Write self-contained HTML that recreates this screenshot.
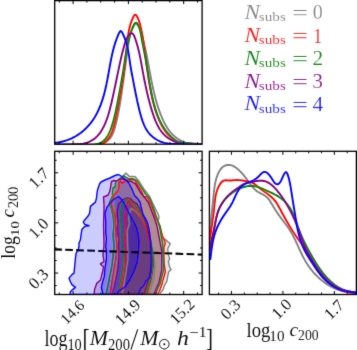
<!DOCTYPE html>
<html><head><meta charset="utf-8"><style>
html,body{margin:0;padding:0;background:#fff;}
body{width:357px;height:350px;overflow:hidden;}
svg{display:block;}
text{font-family:"Liberation Serif",serif;}
</style></head><body>
<svg width="357" height="350" viewBox="0 0 357 350">
<defs>
<filter id="bl" x="0" y="0" width="357" height="350" filterUnits="userSpaceOnUse"><feConvolveMatrix order="3" kernelMatrix="0.01134 0.08382 0.01134 0.08382 0.61935 0.08382 0.01134 0.08382 0.01134" edgeMode="duplicate"/></filter>
<clipPath id="cA"><rect x="54.7" y="0.6" width="147.4" height="143.6"/></clipPath>
<clipPath id="cB"><rect x="54.7" y="151.3" width="147.4" height="143.2"/></clipPath>
<clipPath id="cC"><rect x="209.4" y="151.3" width="147.0" height="143.2"/></clipPath>
</defs>
<g filter="url(#bl)">

<g clip-path="url(#cB)" stroke-linejoin="round">
<path d="M160.0,294.5 L160.8,292.5 L163.4,289.1 L164.3,285.7 L166.8,281.4 L168.6,272.0 L171.1,269.4 L169.7,267.4 L168.3,261.7 L169.7,258.9 L168.3,254.6 L167.7,248.8 L170.3,243.7 L165.4,239.6 L162.6,237.4 L161.1,230.0 L159.7,225.7 L157.6,220.7 L159.0,218.6 L158.6,215.0 L156.3,210.5 L152.9,203.6 L149.5,196.2 L143.7,188.7 L138.6,180.7 L135.2,176.7 L132.9,176.4 L129.4,176.4 L127.7,174.7 L126.0,173.0 L124.0,175.0 L123.0,177.0 L121.0,179.0 L119.0,183.0 L117.0,186.0 L115.0,192.0 L114.0,198.0 L114.0,205.0 L115.0,215.0 L117.0,230.0 L118.0,245.0 L117.0,260.0 L115.0,275.0 L113.0,294.5 Z" fill="#808080" fill-opacity="0.200" stroke="none"/>
<path d="M122.0,294.5 L124.0,284.0 L126.0,272.0 L127.9,260.0 L127.9,250.0 L127.1,231.4 L129.3,224.3 L128.6,217.1 L130.7,208.6 L136.0,211.0 L140.6,216.7 L144.0,222.0 L147.0,230.0 L151.0,242.0 L154.0,255.0 L155.0,266.0 L154.0,278.0 L151.0,288.0 L149.0,294.5 Z" fill="#808080" fill-opacity="0.250" stroke="none"/>
<path d="M158.0,294.5 L161.0,287.0 L165.4,271.7 L164.0,263.1 L164.0,247.4 L165.4,243.1 L161.9,234.6 L159.7,225.7 L156.5,219.0 L154.6,215.0 L153.5,210.5 L151.2,204.8 L148.9,200.2 L147.2,196.8 L143.7,196.8 L141.5,191.0 L138.0,185.3 L134.6,179.6 L128.3,179.3 L125.0,181.0 L123.0,183.0 L121.5,183.0 L120.5,181.0 L118.5,183.0 L119.0,185.0 L118.5,190.0 L116.5,192.5 L114.0,195.0 L112.5,199.0 L111.0,204.0 L113.0,210.0 L115.0,215.0 L116.0,235.0 L117.0,247.0 L116.0,258.0 L114.0,270.0 L112.0,282.0 L110.0,294.5 Z" fill="#ff0000" fill-opacity="0.200" stroke="none"/>
<path d="M120.0,294.5 L121.0,289.0 L122.5,282.0 L123.5,274.0 L125.0,262.0 L125.7,250.0 L125.0,237.1 L125.7,228.6 L125.0,217.1 L126.4,208.6 L127.9,201.4 L129.1,200.7 L132.0,201.9 L133.7,208.7 L137.1,211.0 L140.0,214.4 L142.9,221.3 L145.1,225.9 L147.4,232.7 L151.0,245.0 L153.0,258.0 L153.0,268.0 L151.0,280.0 L148.0,290.0 L147.0,294.5 Z" fill="#ff0000" fill-opacity="0.250" stroke="none"/>
<path d="M155.7,294.5 L157.4,289.1 L160.0,284.0 L162.6,273.7 L164.0,268.9 L163.3,254.6 L162.6,243.1 L161.1,234.6 L159.7,225.7 L157.6,220.0 L155.8,215.0 L154.0,209.4 L151.8,203.6 L149.5,197.9 L146.0,194.5 L141.5,187.6 L136.9,180.7 L132.3,178.4 L128.3,178.7 L124.3,176.4 L123.5,175.5 L121.5,177.0 L118.5,180.0 L116.0,181.5 L115.5,183.0 L115.0,187.0 L113.0,188.0 L112.5,192.0 L112.5,196.0 L110.5,200.0 L109.0,204.0 L111.0,207.0 L113.0,215.0 L114.0,225.0 L113.0,235.0 L114.0,247.0 L113.0,255.0 L112.0,265.0 L110.0,275.0 L108.0,285.0 L106.0,294.5 Z" fill="#008000" fill-opacity="0.200" stroke="none"/>
<path d="M118.0,294.5 L118.6,289.3 L120.7,282.1 L122.1,273.6 L123.6,262.1 L122.5,252.0 L121.4,243.0 L122.1,236.0 L121.4,226.0 L120.7,217.0 L121.4,209.0 L122.9,202.9 L125.7,199.6 L129.7,199.6 L132.6,201.9 L136.0,206.4 L140.0,212.0 L143.5,219.0 L146.5,226.0 L150.0,238.0 L152.5,252.0 L153.0,266.0 L151.0,278.0 L148.0,288.0 L146.0,294.5 Z" fill="#008000" fill-opacity="0.250" stroke="none"/>
<path d="M94.0,294.5 L94.7,288.9 L96.9,283.1 L100.4,280.3 L103.0,270.0 L103.3,266.7 L100.4,263.9 L104.0,261.7 L103.0,255.0 L104.0,245.0 L103.5,225.0 L104.0,210.0 L104.0,205.0 L103.5,197.0 L106.0,196.0 L108.0,195.0 L109.5,192.0 L110.5,188.0 L111.0,184.0 L111.5,181.5 L114.0,180.5 L116.5,181.0 L119.0,179.5 L121.0,178.5 L124.0,179.5 L128.0,181.0 L131.1,181.3 L135.7,184.2 L140.3,192.2 L144.9,197.9 L148.3,202.5 L150.6,208.2 L152.3,212.8 L154.0,217.1 L156.9,225.7 L159.7,240.3 L161.9,251.7 L161.9,266.0 L161.7,270.2 L159.1,282.2 L155.7,290.0 L154.0,294.5 Z" fill="#800080" fill-opacity="0.200" stroke="none"/>
<path d="M112.0,294.5 L113.6,289.3 L114.3,286.4 L115.7,279.3 L117.1,273.6 L118.6,262.1 L118.6,250.0 L118.6,238.6 L117.1,228.6 L117.9,221.4 L117.1,211.4 L118.6,204.3 L122.9,199.6 L126.9,197.9 L130.3,198.4 L133.7,201.9 L137.1,204.1 L140.5,210.0 L144.0,218.0 L147.0,226.0 L150.0,240.0 L151.0,255.0 L151.0,266.0 L149.0,278.0 L146.0,288.0 L144.0,294.5 Z" fill="#800080" fill-opacity="0.250" stroke="none"/>
<path d="M70.0,294.5 L70.4,291.7 L72.6,289.6 L75.4,287.4 L71.9,284.6 L70.4,281.7 L69.0,278.1 L71.9,274.6 L74.0,273.1 L74.7,266.0 L75.4,258.9 L76.1,253.1 L78.3,249.6 L79.0,246.0 L79.0,242.9 L80.4,240.0 L81.1,234.3 L81.9,229.3 L84.7,226.4 L89.0,225.7 L84.7,224.3 L83.3,222.1 L84.0,220.7 L88.3,215.7 L89.7,212.9 L90.4,206.4 L95.4,202.1 L96.4,198.6 L97.0,193.0 L97.5,190.0 L99.5,184.0 L101.0,182.0 L105.0,180.0 L110.0,178.0 L115.0,175.5 L118.5,174.5 L121.0,176.0 L125.0,179.0 L128.9,183.3 L130.0,185.3 L132.3,189.9 L134.6,195.6 L138.0,199.1 L140.3,202.5 L140.9,205.9 L142.0,210.5 L143.2,215.0 L145.5,218.5 L147.4,222.4 L149.1,229.3 L150.6,240.0 L151.4,250.0 L151.6,260.0 L151.2,270.0 L149.5,278.5 L146.2,280.5 L143.5,286.0 L140.6,288.6 L138.5,294.5 Z" fill="#0000ff" fill-opacity="0.200" stroke="none"/>
<path d="M103.1,294.5 L102.1,290.7 L101.4,287.9 L102.1,283.6 L104.3,276.4 L105.0,267.9 L106.4,259.3 L106.4,250.0 L105.7,247.0 L106.4,238.6 L105.7,232.9 L105.7,221.4 L105.0,212.9 L107.1,207.1 L111.4,201.4 L115.0,198.5 L118.5,196.5 L121.5,199.5 L124.0,203.0 L127.4,210.0 L130.3,215.7 L133.7,221.5 L136.6,228.0 L138.3,235.0 L138.9,241.3 L138.4,252.0 L137.2,262.0 L134.3,270.7 L130.0,279.3 L125.7,286.4 L121.4,289.3 L118.6,291.4 L117.0,294.5 Z" fill="#0000ff" fill-opacity="0.250" stroke="none"/>
<path d="M160.0,294.5 L160.8,292.5 L163.4,289.1 L164.3,285.7 L166.8,281.4 L168.6,272.0 L171.1,269.4 L169.7,267.4 L168.3,261.7 L169.7,258.9 L168.3,254.6 L167.7,248.8 L170.3,243.7 L165.4,239.6 L162.6,237.4 L161.1,230.0 L159.7,225.7 L157.6,220.7 L159.0,218.6 L158.6,215.0 L156.3,210.5 L152.9,203.6 L149.5,196.2 L143.7,188.7 L138.6,180.7 L135.2,176.7 L132.9,176.4 L129.4,176.4 L127.7,174.7 L126.0,173.0 L124.0,175.0 L123.0,177.0 L121.0,179.0 L119.0,183.0 L117.0,186.0 L115.0,192.0 L114.0,198.0 L114.0,205.0 L115.0,215.0 L117.0,230.0 L118.0,245.0 L117.0,260.0 L115.0,275.0 L113.0,294.5 Z" fill="none" stroke="#808080" stroke-width="1.40"/>
<path d="M122.0,294.5 L124.0,284.0 L126.0,272.0 L127.9,260.0 L127.9,250.0 L127.1,231.4 L129.3,224.3 L128.6,217.1 L130.7,208.6 L136.0,211.0 L140.6,216.7 L144.0,222.0 L147.0,230.0 L151.0,242.0 L154.0,255.0 L155.0,266.0 L154.0,278.0 L151.0,288.0 L149.0,294.5 Z" fill="none" stroke="#808080" stroke-width="1.40"/>
<path d="M158.0,294.5 L161.0,287.0 L165.4,271.7 L164.0,263.1 L164.0,247.4 L165.4,243.1 L161.9,234.6 L159.7,225.7 L156.5,219.0 L154.6,215.0 L153.5,210.5 L151.2,204.8 L148.9,200.2 L147.2,196.8 L143.7,196.8 L141.5,191.0 L138.0,185.3 L134.6,179.6 L128.3,179.3 L125.0,181.0 L123.0,183.0 L121.5,183.0 L120.5,181.0 L118.5,183.0 L119.0,185.0 L118.5,190.0 L116.5,192.5 L114.0,195.0 L112.5,199.0 L111.0,204.0 L113.0,210.0 L115.0,215.0 L116.0,235.0 L117.0,247.0 L116.0,258.0 L114.0,270.0 L112.0,282.0 L110.0,294.5 Z" fill="none" stroke="#ff0000" stroke-width="1.40"/>
<path d="M120.0,294.5 L121.0,289.0 L122.5,282.0 L123.5,274.0 L125.0,262.0 L125.7,250.0 L125.0,237.1 L125.7,228.6 L125.0,217.1 L126.4,208.6 L127.9,201.4 L129.1,200.7 L132.0,201.9 L133.7,208.7 L137.1,211.0 L140.0,214.4 L142.9,221.3 L145.1,225.9 L147.4,232.7 L151.0,245.0 L153.0,258.0 L153.0,268.0 L151.0,280.0 L148.0,290.0 L147.0,294.5 Z" fill="none" stroke="#ff0000" stroke-width="1.40"/>
<path d="M155.7,294.5 L157.4,289.1 L160.0,284.0 L162.6,273.7 L164.0,268.9 L163.3,254.6 L162.6,243.1 L161.1,234.6 L159.7,225.7 L157.6,220.0 L155.8,215.0 L154.0,209.4 L151.8,203.6 L149.5,197.9 L146.0,194.5 L141.5,187.6 L136.9,180.7 L132.3,178.4 L128.3,178.7 L124.3,176.4 L123.5,175.5 L121.5,177.0 L118.5,180.0 L116.0,181.5 L115.5,183.0 L115.0,187.0 L113.0,188.0 L112.5,192.0 L112.5,196.0 L110.5,200.0 L109.0,204.0 L111.0,207.0 L113.0,215.0 L114.0,225.0 L113.0,235.0 L114.0,247.0 L113.0,255.0 L112.0,265.0 L110.0,275.0 L108.0,285.0 L106.0,294.5 Z" fill="none" stroke="#008000" stroke-width="1.40"/>
<path d="M118.0,294.5 L118.6,289.3 L120.7,282.1 L122.1,273.6 L123.6,262.1 L122.5,252.0 L121.4,243.0 L122.1,236.0 L121.4,226.0 L120.7,217.0 L121.4,209.0 L122.9,202.9 L125.7,199.6 L129.7,199.6 L132.6,201.9 L136.0,206.4 L140.0,212.0 L143.5,219.0 L146.5,226.0 L150.0,238.0 L152.5,252.0 L153.0,266.0 L151.0,278.0 L148.0,288.0 L146.0,294.5 Z" fill="none" stroke="#008000" stroke-width="1.40"/>
<path d="M94.0,294.5 L94.7,288.9 L96.9,283.1 L100.4,280.3 L103.0,270.0 L103.3,266.7 L100.4,263.9 L104.0,261.7 L103.0,255.0 L104.0,245.0 L103.5,225.0 L104.0,210.0 L104.0,205.0 L103.5,197.0 L106.0,196.0 L108.0,195.0 L109.5,192.0 L110.5,188.0 L111.0,184.0 L111.5,181.5 L114.0,180.5 L116.5,181.0 L119.0,179.5 L121.0,178.5 L124.0,179.5 L128.0,181.0 L131.1,181.3 L135.7,184.2 L140.3,192.2 L144.9,197.9 L148.3,202.5 L150.6,208.2 L152.3,212.8 L154.0,217.1 L156.9,225.7 L159.7,240.3 L161.9,251.7 L161.9,266.0 L161.7,270.2 L159.1,282.2 L155.7,290.0 L154.0,294.5 Z" fill="none" stroke="#800080" stroke-width="1.40"/>
<path d="M112.0,294.5 L113.6,289.3 L114.3,286.4 L115.7,279.3 L117.1,273.6 L118.6,262.1 L118.6,250.0 L118.6,238.6 L117.1,228.6 L117.9,221.4 L117.1,211.4 L118.6,204.3 L122.9,199.6 L126.9,197.9 L130.3,198.4 L133.7,201.9 L137.1,204.1 L140.5,210.0 L144.0,218.0 L147.0,226.0 L150.0,240.0 L151.0,255.0 L151.0,266.0 L149.0,278.0 L146.0,288.0 L144.0,294.5 Z" fill="none" stroke="#800080" stroke-width="1.40"/>
<path d="M70.0,294.5 L70.4,291.7 L72.6,289.6 L75.4,287.4 L71.9,284.6 L70.4,281.7 L69.0,278.1 L71.9,274.6 L74.0,273.1 L74.7,266.0 L75.4,258.9 L76.1,253.1 L78.3,249.6 L79.0,246.0 L79.0,242.9 L80.4,240.0 L81.1,234.3 L81.9,229.3 L84.7,226.4 L89.0,225.7 L84.7,224.3 L83.3,222.1 L84.0,220.7 L88.3,215.7 L89.7,212.9 L90.4,206.4 L95.4,202.1 L96.4,198.6 L97.0,193.0 L97.5,190.0 L99.5,184.0 L101.0,182.0 L105.0,180.0 L110.0,178.0 L115.0,175.5 L118.5,174.5 L121.0,176.0 L125.0,179.0 L128.9,183.3 L130.0,185.3 L132.3,189.9 L134.6,195.6 L138.0,199.1 L140.3,202.5 L140.9,205.9 L142.0,210.5 L143.2,215.0 L145.5,218.5 L147.4,222.4 L149.1,229.3 L150.6,240.0 L151.4,250.0 L151.6,260.0 L151.2,270.0 L149.5,278.5 L146.2,280.5 L143.5,286.0 L140.6,288.6 L138.5,294.5 Z" fill="none" stroke="#0000ff" stroke-width="1.40"/>
<path d="M103.1,294.5 L102.1,290.7 L101.4,287.9 L102.1,283.6 L104.3,276.4 L105.0,267.9 L106.4,259.3 L106.4,250.0 L105.7,247.0 L106.4,238.6 L105.7,232.9 L105.7,221.4 L105.0,212.9 L107.1,207.1 L111.4,201.4 L115.0,198.5 L118.5,196.5 L121.5,199.5 L124.0,203.0 L127.4,210.0 L130.3,215.7 L133.7,221.5 L136.6,228.0 L138.3,235.0 L138.9,241.3 L138.4,252.0 L137.2,262.0 L134.3,270.7 L130.0,279.3 L125.7,286.4 L121.4,289.3 L118.6,291.4 L117.0,294.5 Z" fill="none" stroke="#0000ff" stroke-width="1.40"/>
<line x1="54.7" y1="249.4" x2="202.1" y2="254.6" stroke="#000" stroke-width="2.1" stroke-dasharray="7.7,3.34" stroke-dashoffset="0.54"/>
</g>
<g clip-path="url(#cA)" fill="none" stroke-width="1.90">
<path d="M54.66,144.64 L55.70,144.70 L56.74,144.75 L57.77,144.79 L58.79,144.82 L59.80,144.84 L60.82,144.85 L61.82,144.85 L62.82,144.85 L63.82,144.84 L64.82,144.82 L65.81,144.80 L66.80,144.78 L67.78,144.75 L68.77,144.72 L69.75,144.69 L70.74,144.66 L71.72,144.63 L72.70,144.61 L73.69,144.58 L74.68,144.55 L75.66,144.53 L76.65,144.52 L77.65,144.50 L78.65,144.50 L79.65,144.50 L80.65,144.51 L81.66,144.52 L82.68,144.55 L83.70,144.59 L84.73,144.63 L85.76,144.69 L86.80,144.75 L87.83,144.81 L88.88,144.87 L89.92,144.93 L90.96,144.97 L91.99,145.01 L93.02,145.03 L94.05,145.04 L95.07,145.02 L96.08,144.98 L97.07,144.91 L98.06,144.80 L99.03,144.66 L99.99,144.49 L100.94,144.27 L101.86,144.00 L102.77,143.69 L103.65,143.32 L104.51,142.90 L105.35,142.43 L106.16,141.91 L106.95,141.34 L107.70,140.72 L108.42,140.06 L109.11,139.37 L109.76,138.63 L110.37,137.86 L110.94,137.06 L111.46,136.23 L111.95,135.37 L112.41,134.49 L112.83,133.58 L113.22,132.66 L113.59,131.72 L113.93,130.76 L114.25,129.79 L114.55,128.82 L114.84,127.84 L115.11,126.85 L115.37,125.86 L115.63,124.87 L115.88,123.89 L116.12,122.91 L116.36,121.92 L116.59,120.94 L116.81,119.96 L117.03,118.98 L117.25,118.01 L117.46,117.03 L117.67,116.05 L117.87,115.08 L118.07,114.10 L118.26,113.12 L118.45,112.14 L118.64,111.17 L118.82,110.19 L119.00,109.21 L119.18,108.23 L119.35,107.24 L119.52,106.26 L119.69,105.27 L119.86,104.29 L120.03,103.30 L120.19,102.31 L120.35,101.32 L120.51,100.33 L120.67,99.33 L120.82,98.34 L120.98,97.34 L121.13,96.35 L121.28,95.35 L121.43,94.36 L121.58,93.36 L121.73,92.36 L121.87,91.36 L122.02,90.37 L122.16,89.37 L122.30,88.37 L122.44,87.38 L122.58,86.38 L122.72,85.38 L122.86,84.39 L123.00,83.39 L123.13,82.40 L123.27,81.41 L123.40,80.42 L123.54,79.43 L123.67,78.44 L123.81,77.45 L123.94,76.46 L124.07,75.47 L124.21,74.48 L124.34,73.49 L124.47,72.50 L124.61,71.52 L124.74,70.53 L124.87,69.54 L125.00,68.55 L125.14,67.56 L125.27,66.57 L125.40,65.58 L125.54,64.58 L125.67,63.59 L125.81,62.60 L125.94,61.60 L126.08,60.60 L126.22,59.60 L126.36,58.60 L126.50,57.60 L126.63,56.60 L126.77,55.60 L126.91,54.60 L127.05,53.60 L127.20,52.59 L127.34,51.59 L127.48,50.59 L127.62,49.59 L127.76,48.59 L127.91,47.59 L128.05,46.59 L128.20,45.60 L128.34,44.60 L128.49,43.61 L128.64,42.62 L128.79,41.63 L128.95,40.65 L129.12,39.66 L129.30,38.68 L129.49,37.70 L129.69,36.73 L129.91,35.76 L130.15,34.79 L130.41,33.83 L130.69,32.86 L130.99,31.91 L131.32,30.95 L131.68,30.01 L132.06,29.06 L132.48,28.12 L132.92,27.19 L133.41,26.26 L133.92,25.34 L134.48,24.42 L135.07,23.58 L135.68,22.97 L136.30,22.72 L136.91,22.92 L137.51,23.49 L138.08,24.28 L138.60,25.16 L139.09,26.07 L139.53,26.99 L139.93,27.92 L140.30,28.87 L140.63,29.83 L140.95,30.80 L141.23,31.77 L141.50,32.75 L141.76,33.74 L142.00,34.73 L142.24,35.73 L142.48,36.72 L142.71,37.72 L142.95,38.71 L143.18,39.70 L143.41,40.69 L143.64,41.69 L143.88,42.68 L144.10,43.67 L144.33,44.66 L144.56,45.65 L144.78,46.63 L145.00,47.62 L145.22,48.61 L145.44,49.60 L145.65,50.58 L145.86,51.56 L146.07,52.55 L146.28,53.53 L146.48,54.51 L146.68,55.49 L146.87,56.47 L147.07,57.45 L147.26,58.43 L147.45,59.41 L147.64,60.39 L147.82,61.36 L148.01,62.34 L148.19,63.31 L148.37,64.29 L148.56,65.26 L148.74,66.24 L148.92,67.21 L149.10,68.19 L149.28,69.16 L149.45,70.14 L149.63,71.11 L149.82,72.08 L150.00,73.06 L150.18,74.03 L150.36,75.01 L150.54,75.98 L150.73,76.96 L150.92,77.93 L151.10,78.91 L151.29,79.88 L151.49,80.86 L151.68,81.83 L151.88,82.81 L152.08,83.79 L152.28,84.77 L152.49,85.75 L152.70,86.72 L152.91,87.70 L153.13,88.69 L153.34,89.67 L153.57,90.65 L153.80,91.63 L154.03,92.62 L154.27,93.61 L154.51,94.59 L154.75,95.58 L155.01,96.57 L155.26,97.56 L155.52,98.55 L155.79,99.54 L156.07,100.53 L156.34,101.52 L156.63,102.50 L156.92,103.49 L157.22,104.47 L157.52,105.45 L157.83,106.43 L158.14,107.41 L158.46,108.38 L158.79,109.35 L159.13,110.31 L159.47,111.27 L159.82,112.23 L160.18,113.18 L160.54,114.13 L160.91,115.07 L161.29,116.00 L161.67,116.93 L162.07,117.85 L162.47,118.76 L162.88,119.67 L163.30,120.57 L163.72,121.46 L164.16,122.34 L164.60,123.21 L165.06,124.07 L165.52,124.93 L166.00,125.77 L166.50,126.61 L167.00,127.43 L167.53,128.24 L168.07,129.04 L168.62,129.83 L169.20,130.61 L169.79,131.37 L170.41,132.13 L171.04,132.87 L171.70,133.59 L172.38,134.30 L173.09,135.00 L173.82,135.69 L174.57,136.35 L175.35,137.00 L176.15,137.63 L176.97,138.24 L177.81,138.82 L178.66,139.38 L179.54,139.91 L180.43,140.41 L181.34,140.88 L182.26,141.31 L183.20,141.71 L184.14,142.07 L185.10,142.39 L186.07,142.67 L187.04,142.91 L188.03,143.10 L189.02,143.24 L190.02,143.35 L191.02,143.42 L192.02,143.47 L193.03,143.51 L194.03,143.54 L195.04,143.58 L196.05,143.63 L197.05,143.71 L198.05,143.83 L199.05,143.99 L200.04,144.20 L201.03,144.47 L202.01,144.82" stroke="#808080"/>
<path d="M54.67,144.65 L55.71,144.70 L56.75,144.75 L57.78,144.78 L58.80,144.80 L59.82,144.82 L60.83,144.83 L61.84,144.83 L62.84,144.82 L63.83,144.81 L64.83,144.80 L65.82,144.78 L66.81,144.75 L67.79,144.73 L68.78,144.70 L69.76,144.68 L70.75,144.65 L71.73,144.62 L72.72,144.60 L73.71,144.58 L74.69,144.56 L75.69,144.54 L76.68,144.53 L77.68,144.53 L78.68,144.53 L79.69,144.54 L80.70,144.55 L81.72,144.58 L82.75,144.61 L83.78,144.66 L84.82,144.71 L85.87,144.76 L86.91,144.82 L87.96,144.88 L89.01,144.93 L90.05,144.97 L91.10,145.00 L92.13,145.01 L93.16,145.00 L94.18,144.97 L95.19,144.91 L96.19,144.83 L97.17,144.70 L98.14,144.55 L99.09,144.35 L100.03,144.10 L100.94,143.81 L101.83,143.47 L102.70,143.07 L103.54,142.62 L104.35,142.12 L105.14,141.57 L105.89,140.97 L106.61,140.33 L107.30,139.65 L107.96,138.93 L108.58,138.18 L109.16,137.39 L109.70,136.58 L110.21,135.73 L110.68,134.86 L111.12,133.96 L111.53,133.05 L111.92,132.11 L112.28,131.16 L112.62,130.20 L112.94,129.22 L113.24,128.24 L113.53,127.25 L113.80,126.26 L114.07,125.27 L114.33,124.27 L114.58,123.28 L114.83,122.29 L115.07,121.30 L115.30,120.31 L115.53,119.32 L115.75,118.33 L115.97,117.35 L116.18,116.36 L116.39,115.37 L116.59,114.39 L116.79,113.40 L116.99,112.41 L117.18,111.43 L117.38,110.45 L117.57,109.46 L117.75,108.48 L117.94,107.49 L118.13,106.51 L118.31,105.53 L118.50,104.54 L118.68,103.56 L118.87,102.58 L119.05,101.59 L119.23,100.61 L119.41,99.63 L119.59,98.64 L119.77,97.66 L119.95,96.68 L120.13,95.69 L120.31,94.71 L120.48,93.72 L120.66,92.74 L120.83,91.75 L121.00,90.77 L121.17,89.78 L121.34,88.80 L121.50,87.81 L121.67,86.82 L121.83,85.83 L121.99,84.85 L122.15,83.86 L122.31,82.87 L122.47,81.88 L122.62,80.89 L122.77,79.90 L122.92,78.90 L123.07,77.91 L123.22,76.92 L123.36,75.92 L123.50,74.93 L123.64,73.93 L123.77,72.94 L123.91,71.94 L124.04,70.94 L124.16,69.94 L124.29,68.94 L124.41,67.94 L124.53,66.94 L124.65,65.93 L124.76,64.93 L124.87,63.92 L124.98,62.91 L125.09,61.91 L125.19,60.90 L125.30,59.89 L125.40,58.88 L125.50,57.87 L125.60,56.86 L125.70,55.85 L125.80,54.84 L125.90,53.83 L126.00,52.82 L126.10,51.81 L126.20,50.80 L126.31,49.79 L126.41,48.79 L126.52,47.78 L126.63,46.77 L126.74,45.77 L126.85,44.76 L126.97,43.76 L127.09,42.76 L127.21,41.76 L127.34,40.76 L127.47,39.76 L127.60,38.76 L127.74,37.77 L127.88,36.78 L128.03,35.79 L128.19,34.80 L128.35,33.81 L128.52,32.83 L128.70,31.85 L128.88,30.87 L129.08,29.89 L129.29,28.92 L129.51,27.95 L129.75,26.98 L130.00,26.01 L130.26,25.05 L130.54,24.09 L130.84,23.14 L131.16,22.19 L131.50,21.24 L131.86,20.30 L132.24,19.36 L132.65,18.42 L133.08,17.49 L133.53,16.58 L134.00,15.76 L134.48,15.12 L134.97,14.74 L135.47,14.69 L135.95,14.97 L136.43,15.51 L136.90,16.23 L137.34,17.05 L137.76,17.91 L138.16,18.82 L138.54,19.75 L138.89,20.72 L139.22,21.70 L139.54,22.71 L139.83,23.74 L140.11,24.78 L140.38,25.83 L140.64,26.89 L140.88,27.96 L141.11,29.02 L141.33,30.08 L141.55,31.13 L141.75,32.18 L141.96,33.22 L142.15,34.25 L142.34,35.27 L142.52,36.29 L142.70,37.30 L142.87,38.30 L143.04,39.30 L143.21,40.30 L143.36,41.29 L143.52,42.28 L143.67,43.26 L143.82,44.24 L143.97,45.23 L144.11,46.20 L144.25,47.18 L144.39,48.16 L144.53,49.14 L144.66,50.11 L144.79,51.09 L144.93,52.07 L145.06,53.05 L145.19,54.03 L145.32,55.02 L145.45,56.00 L145.58,56.98 L145.71,57.97 L145.84,58.95 L145.97,59.94 L146.10,60.93 L146.23,61.92 L146.36,62.90 L146.49,63.89 L146.62,64.88 L146.75,65.87 L146.88,66.86 L147.01,67.86 L147.15,68.85 L147.28,69.84 L147.42,70.83 L147.56,71.83 L147.70,72.82 L147.84,73.81 L147.98,74.81 L148.13,75.80 L148.28,76.80 L148.43,77.79 L148.58,78.79 L148.73,79.78 L148.89,80.78 L149.05,81.77 L149.21,82.77 L149.38,83.76 L149.55,84.76 L149.72,85.75 L149.90,86.75 L150.07,87.74 L150.26,88.74 L150.44,89.73 L150.63,90.73 L150.83,91.72 L151.03,92.72 L151.23,93.71 L151.44,94.71 L151.65,95.70 L151.87,96.69 L152.09,97.69 L152.31,98.68 L152.55,99.67 L152.78,100.66 L153.03,101.65 L153.28,102.63 L153.53,103.61 L153.79,104.60 L154.06,105.57 L154.33,106.55 L154.61,107.52 L154.90,108.49 L155.20,109.46 L155.50,110.42 L155.81,111.38 L156.13,112.33 L156.45,113.28 L156.79,114.23 L157.13,115.17 L157.48,116.10 L157.84,117.03 L158.21,117.95 L158.59,118.87 L158.97,119.78 L159.37,120.69 L159.78,121.59 L160.19,122.48 L160.62,123.37 L161.06,124.25 L161.51,125.12 L161.97,125.98 L162.45,126.84 L162.94,127.68 L163.45,128.52 L163.97,129.35 L164.52,130.17 L165.08,130.99 L165.66,131.79 L166.27,132.58 L166.90,133.37 L167.55,134.14 L168.22,134.91 L168.92,135.66 L169.64,136.40 L170.39,137.13 L171.17,137.83 L171.96,138.50 L172.78,139.13 L173.62,139.73 L174.48,140.27 L175.35,140.76 L176.25,141.19 L177.15,141.56 L178.08,141.86 L179.02,142.11 L179.97,142.32 L180.93,142.50 L181.91,142.64 L182.89,142.76 L183.88,142.87 L184.88,142.97 L185.89,143.08 L186.90,143.19 L187.91,143.30 L188.93,143.43 L189.95,143.55 L190.97,143.68 L192.00,143.81 L193.02,143.93 L194.03,144.05 L195.05,144.17 L196.06,144.28 L197.06,144.38 L198.06,144.47 L199.05,144.54 L200.03,144.61 L201.01,144.65 L201.97,144.68" stroke="#ff0000"/>
<path d="M54.65,144.73 L55.70,144.71 L56.75,144.69 L57.78,144.67 L58.81,144.66 L59.83,144.65 L60.85,144.65 L61.85,144.64 L62.86,144.64 L63.86,144.64 L64.85,144.65 L65.84,144.65 L66.83,144.65 L67.82,144.66 L68.80,144.67 L69.78,144.68 L70.76,144.69 L71.74,144.70 L72.73,144.71 L73.71,144.72 L74.69,144.73 L75.68,144.74 L76.67,144.76 L77.66,144.77 L78.66,144.78 L79.66,144.79 L80.66,144.80 L81.67,144.81 L82.69,144.82 L83.72,144.82 L84.75,144.83 L85.78,144.83 L86.83,144.83 L87.88,144.83 L88.93,144.81 L89.98,144.79 L91.03,144.74 L92.07,144.68 L93.10,144.60 L94.11,144.49 L95.12,144.35 L96.10,144.17 L97.07,143.97 L98.01,143.72 L98.93,143.43 L99.82,143.10 L100.67,142.72 L101.50,142.29 L102.29,141.80 L103.04,141.26 L103.76,140.67 L104.44,140.03 L105.10,139.35 L105.72,138.63 L106.31,137.87 L106.88,137.08 L107.42,136.25 L107.93,135.39 L108.42,134.51 L108.89,133.60 L109.33,132.67 L109.75,131.72 L110.16,130.76 L110.54,129.79 L110.91,128.80 L111.27,127.81 L111.61,126.81 L111.93,125.81 L112.25,124.82 L112.55,123.83 L112.84,122.84 L113.13,121.85 L113.40,120.87 L113.67,119.89 L113.92,118.91 L114.17,117.94 L114.42,116.96 L114.65,115.99 L114.88,115.02 L115.11,114.05 L115.32,113.08 L115.54,112.11 L115.75,111.14 L115.96,110.18 L116.16,109.21 L116.36,108.24 L116.56,107.27 L116.76,106.30 L116.96,105.33 L117.15,104.36 L117.35,103.38 L117.54,102.41 L117.73,101.43 L117.92,100.46 L118.11,99.48 L118.30,98.50 L118.49,97.52 L118.68,96.54 L118.86,95.56 L119.05,94.58 L119.23,93.60 L119.41,92.61 L119.60,91.63 L119.78,90.65 L119.96,89.66 L120.14,88.67 L120.31,87.69 L120.49,86.70 L120.67,85.71 L120.84,84.72 L121.02,83.73 L121.19,82.74 L121.36,81.75 L121.53,80.76 L121.70,79.76 L121.87,78.77 L122.04,77.78 L122.21,76.78 L122.38,75.79 L122.54,74.79 L122.71,73.80 L122.87,72.80 L123.04,71.81 L123.20,70.81 L123.36,69.81 L123.53,68.81 L123.69,67.82 L123.85,66.82 L124.01,65.82 L124.17,64.82 L124.33,63.82 L124.48,62.82 L124.64,61.82 L124.80,60.82 L124.96,59.82 L125.11,58.82 L125.27,57.82 L125.43,56.82 L125.59,55.82 L125.75,54.82 L125.91,53.83 L126.08,52.83 L126.25,51.83 L126.42,50.84 L126.60,49.85 L126.78,48.85 L126.97,47.86 L127.16,46.87 L127.35,45.89 L127.56,44.90 L127.76,43.92 L127.98,42.94 L128.20,41.96 L128.43,40.98 L128.67,40.01 L128.91,39.04 L129.16,38.07 L129.43,37.11 L129.70,36.15 L129.98,35.19 L130.27,34.23 L130.57,33.28 L130.88,32.33 L131.21,31.39 L131.54,30.45 L131.89,29.51 L132.25,28.58 L132.63,27.65 L133.01,26.73 L133.41,25.81 L133.83,24.90 L134.26,24.06 L134.73,23.40 L135.25,23.02 L135.83,23.02 L136.43,23.37 L137.04,23.95 L137.62,24.69 L138.14,25.49 L138.61,26.35 L139.03,27.25 L139.40,28.20 L139.72,29.18 L140.02,30.19 L140.28,31.23 L140.52,32.29 L140.73,33.35 L140.93,34.43 L141.12,35.51 L141.31,36.58 L141.49,37.65 L141.68,38.70 L141.87,39.74 L142.06,40.77 L142.25,41.78 L142.45,42.79 L142.64,43.80 L142.83,44.79 L143.03,45.78 L143.22,46.76 L143.42,47.74 L143.61,48.71 L143.80,49.68 L144.00,50.65 L144.19,51.62 L144.37,52.58 L144.56,53.55 L144.74,54.52 L144.92,55.49 L145.10,56.46 L145.28,57.43 L145.46,58.40 L145.63,59.38 L145.80,60.35 L145.97,61.33 L146.14,62.31 L146.30,63.29 L146.47,64.27 L146.64,65.25 L146.80,66.23 L146.96,67.22 L147.13,68.20 L147.29,69.19 L147.45,70.18 L147.61,71.16 L147.77,72.15 L147.94,73.14 L148.10,74.13 L148.26,75.12 L148.43,76.11 L148.59,77.10 L148.76,78.10 L148.92,79.09 L149.09,80.08 L149.26,81.07 L149.43,82.07 L149.60,83.06 L149.78,84.05 L149.95,85.05 L150.13,86.04 L150.31,87.04 L150.50,88.03 L150.68,89.02 L150.87,90.02 L151.06,91.01 L151.26,92.00 L151.45,93.00 L151.65,93.99 L151.86,94.98 L152.07,95.97 L152.28,96.96 L152.49,97.95 L152.71,98.94 L152.94,99.93 L153.17,100.92 L153.41,101.90 L153.65,102.88 L153.90,103.86 L154.16,104.84 L154.42,105.81 L154.69,106.79 L154.97,107.75 L155.26,108.72 L155.55,109.68 L155.86,110.64 L156.17,111.59 L156.49,112.54 L156.83,113.48 L157.17,114.42 L157.53,115.36 L157.89,116.29 L158.27,117.21 L158.66,118.13 L159.06,119.04 L159.47,119.95 L159.90,120.85 L160.34,121.74 L160.79,122.63 L161.25,123.50 L161.74,124.37 L162.23,125.24 L162.74,126.09 L163.27,126.94 L163.81,127.78 L164.37,128.61 L164.94,129.44 L165.53,130.25 L166.14,131.05 L166.76,131.85 L167.40,132.63 L168.06,133.41 L168.74,134.17 L169.44,134.93 L170.16,135.67 L170.90,136.40 L171.65,137.12 L172.43,137.81 L173.22,138.48 L174.02,139.12 L174.85,139.73 L175.69,140.29 L176.55,140.80 L177.42,141.27 L178.30,141.67 L179.20,142.02 L180.11,142.30 L181.03,142.51 L181.97,142.66 L182.91,142.75 L183.87,142.81 L184.83,142.86 L185.81,142.91 L186.79,142.98 L187.78,143.08 L188.78,143.20 L189.78,143.33 L190.79,143.48 L191.81,143.63 L192.83,143.79 L193.85,143.94 L194.88,144.09 L195.91,144.24 L196.95,144.37 L197.98,144.48 L199.02,144.57 L200.06,144.64 L201.09,144.67 L202.13,144.67" stroke="#008000"/>
<path d="M54.90,144.69 L55.78,144.67 L56.69,144.65 L57.61,144.64 L58.54,144.65 L59.50,144.65 L60.46,144.67 L61.44,144.69 L62.42,144.71 L63.42,144.73 L64.43,144.75 L65.45,144.77 L66.47,144.79 L67.50,144.80 L68.54,144.81 L69.58,144.81 L70.62,144.80 L71.66,144.79 L72.71,144.77 L73.76,144.73 L74.80,144.68 L75.84,144.61 L76.88,144.54 L77.92,144.44 L78.95,144.32 L79.97,144.19 L80.98,144.04 L81.99,143.86 L82.99,143.66 L83.98,143.43 L84.95,143.18 L85.92,142.91 L86.86,142.61 L87.80,142.28 L88.72,141.92 L89.62,141.53 L90.50,141.12 L91.37,140.67 L92.21,140.19 L93.04,139.68 L93.84,139.14 L94.62,138.57 L95.37,137.96 L96.10,137.32 L96.81,136.64 L97.49,135.94 L98.15,135.20 L98.79,134.45 L99.41,133.66 L100.00,132.86 L100.58,132.03 L101.13,131.19 L101.67,130.33 L102.18,129.45 L102.68,128.56 L103.16,127.66 L103.63,126.75 L104.08,125.83 L104.51,124.90 L104.93,123.97 L105.33,123.04 L105.72,122.11 L106.09,121.17 L106.45,120.23 L106.80,119.29 L107.14,118.34 L107.47,117.39 L107.78,116.44 L108.09,115.49 L108.39,114.54 L108.67,113.58 L108.95,112.62 L109.23,111.66 L109.49,110.69 L109.75,109.73 L110.00,108.76 L110.25,107.79 L110.49,106.82 L110.73,105.85 L110.96,104.87 L111.20,103.90 L111.43,102.92 L111.65,101.94 L111.88,100.96 L112.10,99.98 L112.32,99.00 L112.55,98.01 L112.77,97.03 L112.98,96.05 L113.20,95.06 L113.42,94.07 L113.63,93.09 L113.84,92.10 L114.06,91.11 L114.27,90.12 L114.48,89.13 L114.69,88.14 L114.90,87.16 L115.11,86.17 L115.31,85.18 L115.52,84.19 L115.73,83.20 L115.93,82.21 L116.14,81.22 L116.34,80.24 L116.55,79.25 L116.75,78.26 L116.96,77.28 L117.16,76.29 L117.37,75.31 L117.57,74.32 L117.78,73.34 L117.98,72.36 L118.18,71.38 L118.39,70.40 L118.59,69.42 L118.80,68.45 L119.01,67.47 L119.21,66.50 L119.42,65.53 L119.63,64.56 L119.84,63.59 L120.05,62.62 L120.26,61.65 L120.47,60.69 L120.69,59.72 L120.91,58.75 L121.13,57.78 L121.35,56.81 L121.58,55.84 L121.81,54.87 L122.05,53.89 L122.29,52.91 L122.53,51.92 L122.78,50.94 L123.04,49.94 L123.30,48.95 L123.57,47.94 L123.84,46.94 L124.12,45.93 L124.42,44.91 L124.72,43.90 L125.05,42.90 L125.39,41.90 L125.76,40.92 L126.15,39.95 L126.57,39.00 L127.02,38.07 L127.51,37.17 L128.03,36.29 L128.59,35.45 L129.19,34.66 L129.80,33.98 L130.42,33.46 L131.04,33.14 L131.63,33.08 L132.19,33.28 L132.72,33.71 L133.22,34.33 L133.70,35.09 L134.15,35.97 L134.58,36.94 L134.98,37.96 L135.37,39.04 L135.73,40.13 L136.08,41.23 L136.41,42.30 L136.72,43.34 L137.02,44.35 L137.30,45.33 L137.57,46.30 L137.83,47.25 L138.09,48.20 L138.33,49.14 L138.57,50.08 L138.80,51.03 L139.02,51.99 L139.24,52.96 L139.45,53.93 L139.66,54.91 L139.87,55.89 L140.07,56.88 L140.27,57.88 L140.46,58.87 L140.65,59.87 L140.84,60.87 L141.03,61.88 L141.22,62.88 L141.40,63.89 L141.58,64.89 L141.76,65.90 L141.95,66.90 L142.13,67.90 L142.31,68.90 L142.49,69.90 L142.67,70.90 L142.85,71.89 L143.04,72.88 L143.22,73.87 L143.41,74.86 L143.60,75.84 L143.78,76.82 L143.97,77.80 L144.16,78.78 L144.35,79.76 L144.55,80.74 L144.74,81.71 L144.94,82.69 L145.14,83.66 L145.34,84.63 L145.55,85.60 L145.75,86.57 L145.96,87.54 L146.17,88.51 L146.38,89.48 L146.60,90.45 L146.82,91.41 L147.04,92.38 L147.27,93.35 L147.50,94.32 L147.73,95.28 L147.96,96.25 L148.20,97.22 L148.44,98.18 L148.69,99.15 L148.94,100.12 L149.19,101.09 L149.45,102.06 L149.71,103.03 L149.98,104.01 L150.25,104.98 L150.53,105.95 L150.81,106.93 L151.09,107.91 L151.38,108.89 L151.67,109.87 L151.97,110.85 L152.28,111.83 L152.59,112.81 L152.91,113.79 L153.24,114.77 L153.57,115.75 L153.92,116.72 L154.27,117.69 L154.63,118.65 L155.01,119.61 L155.39,120.56 L155.79,121.50 L156.20,122.43 L156.62,123.35 L157.06,124.26 L157.51,125.17 L157.98,126.06 L158.46,126.93 L158.96,127.79 L159.47,128.64 L160.00,129.47 L160.55,130.29 L161.12,131.09 L161.71,131.87 L162.32,132.63 L162.94,133.37 L163.59,134.10 L164.26,134.80 L164.96,135.48 L165.67,136.13 L166.41,136.76 L167.17,137.37 L167.96,137.95 L168.77,138.51 L169.60,139.04 L170.45,139.55 L171.31,140.03 L172.20,140.48 L173.10,140.91 L174.02,141.31 L174.95,141.68 L175.90,142.03 L176.86,142.35 L177.83,142.64 L178.82,142.91 L179.81,143.15 L180.81,143.36 L181.81,143.54 L182.83,143.69 L183.85,143.82 L184.87,143.91 L185.90,143.98 L186.93,144.03 L187.96,144.05 L188.99,144.06 L190.02,144.06 L191.04,144.06 L192.07,144.05 L193.09,144.04 L194.11,144.04 L195.11,144.05 L196.12,144.08 L197.11,144.12 L198.09,144.19 L199.07,144.28 L200.03,144.41 L200.98,144.57 L201.92,144.77" stroke="#800080"/>
<path d="M54.57,142.77 L55.60,142.69 L56.62,142.59 L57.64,142.47 L58.65,142.32 L59.66,142.15 L60.66,141.96 L61.65,141.75 L62.64,141.52 L63.62,141.26 L64.60,140.99 L65.56,140.69 L66.52,140.38 L67.48,140.05 L68.42,139.70 L69.35,139.32 L70.28,138.93 L71.20,138.53 L72.11,138.10 L73.01,137.65 L73.90,137.19 L74.78,136.71 L75.65,136.22 L76.51,135.70 L77.36,135.18 L78.20,134.63 L79.03,134.07 L79.85,133.49 L80.66,132.90 L81.45,132.29 L82.23,131.67 L83.00,131.04 L83.76,130.39 L84.51,129.72 L85.24,129.05 L85.96,128.36 L86.67,127.65 L87.36,126.94 L88.04,126.21 L88.70,125.47 L89.35,124.72 L89.99,123.96 L90.61,123.18 L91.22,122.40 L91.81,121.60 L92.39,120.79 L92.95,119.98 L93.50,119.15 L94.04,118.31 L94.57,117.47 L95.08,116.62 L95.58,115.75 L96.06,114.88 L96.54,114.00 L97.00,113.12 L97.45,112.22 L97.89,111.32 L98.32,110.42 L98.74,109.50 L99.14,108.58 L99.54,107.65 L99.92,106.72 L100.30,105.78 L100.66,104.84 L101.02,103.89 L101.36,102.94 L101.70,101.98 L102.03,101.02 L102.35,100.06 L102.66,99.09 L102.96,98.12 L103.25,97.14 L103.54,96.17 L103.82,95.19 L104.09,94.21 L104.35,93.23 L104.61,92.24 L104.85,91.26 L105.10,90.27 L105.33,89.29 L105.56,88.30 L105.79,87.31 L106.01,86.33 L106.22,85.34 L106.43,84.35 L106.63,83.37 L106.83,82.38 L107.03,81.40 L107.22,80.41 L107.41,79.43 L107.59,78.45 L107.78,77.46 L107.96,76.48 L108.14,75.49 L108.31,74.51 L108.49,73.53 L108.66,72.54 L108.84,71.56 L109.01,70.58 L109.19,69.60 L109.36,68.62 L109.54,67.63 L109.71,66.65 L109.89,65.67 L110.07,64.69 L110.25,63.71 L110.44,62.73 L110.62,61.74 L110.81,60.76 L111.01,59.78 L111.20,58.80 L111.40,57.82 L111.61,56.84 L111.82,55.86 L112.04,54.88 L112.26,53.90 L112.48,52.92 L112.72,51.94 L112.96,50.96 L113.20,49.98 L113.46,49.00 L113.72,48.02 L113.99,47.04 L114.26,46.06 L114.55,45.08 L114.85,44.10 L115.15,43.13 L115.47,42.15 L115.79,41.18 L116.13,40.20 L116.48,39.23 L116.85,38.26 L117.22,37.30 L117.61,36.33 L118.01,35.38 L118.43,34.43 L118.86,33.50 L119.31,32.60 L119.77,31.82 L120.23,31.27 L120.71,31.05 L121.18,31.22 L121.66,31.74 L122.13,32.49 L122.60,33.38 L123.05,34.32 L123.50,35.27 L123.93,36.24 L124.34,37.22 L124.73,38.20 L125.09,39.18 L125.44,40.16 L125.77,41.14 L126.07,42.12 L126.36,43.10 L126.64,44.08 L126.90,45.07 L127.14,46.05 L127.37,47.03 L127.59,48.02 L127.79,49.00 L127.99,49.99 L128.17,50.97 L128.35,51.96 L128.52,52.94 L128.68,53.93 L128.84,54.92 L128.99,55.90 L129.14,56.89 L129.28,57.88 L129.42,58.87 L129.57,59.86 L129.71,60.85 L129.85,61.83 L130.00,62.82 L130.15,63.81 L130.30,64.80 L130.46,65.79 L130.62,66.78 L130.78,67.77 L130.95,68.76 L131.13,69.75 L131.30,70.74 L131.48,71.73 L131.66,72.72 L131.84,73.71 L132.03,74.70 L132.21,75.69 L132.40,76.68 L132.59,77.67 L132.78,78.66 L132.97,79.65 L133.16,80.64 L133.36,81.63 L133.55,82.62 L133.74,83.61 L133.93,84.60 L134.12,85.59 L134.31,86.57 L134.51,87.56 L134.70,88.55 L134.89,89.54 L135.08,90.52 L135.28,91.51 L135.48,92.50 L135.67,93.48 L135.87,94.47 L136.07,95.46 L136.27,96.44 L136.48,97.42 L136.69,98.41 L136.89,99.39 L137.11,100.38 L137.32,101.36 L137.54,102.34 L137.76,103.32 L137.98,104.30 L138.21,105.28 L138.44,106.26 L138.67,107.24 L138.91,108.22 L139.15,109.20 L139.39,110.17 L139.64,111.15 L139.90,112.13 L140.16,113.10 L140.42,114.07 L140.69,115.05 L140.97,116.02 L141.25,116.99 L141.54,117.96 L141.84,118.92 L142.15,119.88 L142.47,120.83 L142.81,121.77 L143.15,122.71 L143.52,123.64 L143.90,124.56 L144.30,125.46 L144.71,126.36 L145.15,127.24 L145.61,128.12 L146.09,128.97 L146.59,129.81 L147.12,130.64 L147.67,131.45 L148.25,132.24 L148.86,133.01 L149.50,133.77 L150.17,134.50 L150.87,135.21 L151.59,135.90 L152.35,136.56 L153.13,137.21 L153.93,137.82 L154.75,138.41 L155.60,138.98 L156.46,139.51 L157.35,140.02 L158.25,140.50 L159.16,140.94 L160.09,141.36 L161.02,141.74 L161.97,142.09 L162.93,142.40 L163.89,142.69 L164.86,142.93 L165.83,143.14 L166.81,143.33 L167.80,143.48 L168.79,143.62 L169.78,143.73 L170.78,143.81 L171.78,143.88 L172.78,143.94 L173.79,143.98 L174.80,144.01 L175.81,144.04 L176.82,144.05 L177.84,144.06 L178.85,144.08 L179.87,144.09 L180.89,144.11 L181.91,144.13 L182.93,144.16 L183.95,144.19 L184.97,144.24 L185.99,144.28 L187.00,144.33 L188.02,144.38 L189.03,144.43 L190.04,144.48 L191.05,144.53 L192.06,144.58 L193.07,144.63 L194.07,144.66 L195.06,144.70 L196.06,144.72 L197.05,144.74 L198.03,144.75 L199.01,144.75 L199.98,144.73 L200.95,144.70 L201.92,144.66" stroke="#0000ff"/>
</g>
<g clip-path="url(#cC)" fill="none" stroke-width="1.90">
<path d="M209.68,235.97 L209.73,234.98 L209.78,234.00 L209.84,233.00 L209.91,232.01 L209.98,231.02 L210.05,230.02 L210.13,229.02 L210.21,228.02 L210.30,227.02 L210.39,226.02 L210.48,225.02 L210.57,224.01 L210.67,223.00 L210.77,222.00 L210.87,220.99 L210.98,219.98 L211.08,218.97 L211.19,217.96 L211.30,216.95 L211.41,215.94 L211.52,214.93 L211.63,213.92 L211.75,212.92 L211.86,211.91 L211.97,210.90 L212.09,209.89 L212.20,208.89 L212.31,207.88 L212.42,206.88 L212.53,205.87 L212.64,204.87 L212.75,203.87 L212.86,202.87 L212.96,201.88 L213.07,200.88 L213.17,199.89 L213.26,198.90 L213.36,197.91 L213.45,196.93 L213.55,195.94 L213.64,194.96 L213.73,193.98 L213.82,193.00 L213.92,192.02 L214.03,191.04 L214.14,190.06 L214.26,189.08 L214.38,188.10 L214.52,187.11 L214.67,186.12 L214.84,185.13 L215.02,184.14 L215.21,183.14 L215.42,182.14 L215.65,181.13 L215.90,180.12 L216.18,179.11 L216.47,178.09 L216.79,177.08 L217.14,176.07 L217.51,175.08 L217.91,174.10 L218.34,173.14 L218.80,172.20 L219.29,171.29 L219.82,170.41 L220.38,169.56 L220.98,168.76 L221.61,168.02 L222.29,167.35 L223.00,166.76 L223.76,166.25 L224.54,165.82 L225.36,165.48 L226.20,165.22 L227.07,165.04 L227.95,164.94 L228.85,164.93 L229.76,165.00 L230.68,165.16 L231.60,165.40 L232.52,165.73 L233.43,166.14 L234.34,166.63 L235.24,167.19 L236.13,167.80 L236.99,168.46 L237.83,169.16 L238.65,169.87 L239.44,170.61 L240.19,171.35 L240.92,172.09 L241.62,172.84 L242.29,173.60 L242.95,174.37 L243.59,175.14 L244.21,175.92 L244.82,176.70 L245.42,177.49 L246.01,178.28 L246.60,179.09 L247.18,179.89 L247.77,180.71 L248.36,181.53 L248.95,182.35 L249.55,183.18 L250.17,184.01 L250.79,184.84 L251.42,185.65 L252.06,186.45 L252.72,187.22 L253.39,187.97 L254.07,188.70 L254.78,189.38 L255.49,190.03 L256.23,190.63 L256.98,191.19 L257.76,191.71 L258.55,192.19 L259.37,192.66 L260.21,193.10 L261.07,193.54 L261.95,193.98 L262.83,194.44 L263.70,194.92 L264.57,195.45 L265.41,196.02 L266.23,196.64 L267.01,197.31 L267.74,198.03 L268.43,198.80 L269.05,199.61 L269.63,200.45 L270.17,201.31 L270.70,202.18 L271.21,203.04 L271.72,203.90 L272.23,204.76 L272.74,205.61 L273.24,206.45 L273.75,207.29 L274.26,208.12 L274.78,208.95 L275.29,209.77 L275.82,210.59 L276.34,211.41 L276.88,212.23 L277.43,213.04 L277.98,213.85 L278.54,214.66 L279.12,215.47 L279.71,216.27 L280.30,217.08 L280.91,217.89 L281.52,218.70 L282.13,219.51 L282.75,220.32 L283.37,221.13 L283.99,221.94 L284.61,222.76 L285.23,223.57 L285.85,224.40 L286.46,225.22 L287.06,226.05 L287.66,226.89 L288.25,227.72 L288.82,228.57 L289.39,229.42 L289.94,230.27 L290.48,231.13 L291.00,232.00 L291.51,232.88 L292.01,233.75 L292.50,234.64 L292.97,235.52 L293.44,236.42 L293.90,237.31 L294.35,238.21 L294.79,239.11 L295.23,240.02 L295.66,240.92 L296.08,241.83 L296.50,242.74 L296.92,243.66 L297.33,244.57 L297.74,245.48 L298.16,246.40 L298.57,247.31 L298.98,248.23 L299.39,249.14 L299.80,250.05 L300.22,250.96 L300.64,251.87 L301.07,252.78 L301.50,253.68 L301.93,254.58 L302.38,255.48 L302.83,256.37 L303.29,257.26 L303.75,258.15 L304.23,259.03 L304.72,259.91 L305.22,260.78 L305.73,261.65 L306.25,262.51 L306.79,263.36 L307.33,264.21 L307.89,265.05 L308.46,265.88 L309.04,266.70 L309.63,267.52 L310.23,268.33 L310.84,269.14 L311.46,269.93 L312.10,270.71 L312.74,271.49 L313.40,272.26 L314.06,273.01 L314.74,273.76 L315.43,274.50 L316.12,275.22 L316.83,275.94 L317.55,276.65 L318.27,277.34 L319.01,278.02 L319.76,278.69 L320.51,279.35 L321.28,280.00 L322.06,280.63 L322.84,281.25 L323.63,281.86 L324.44,282.45 L325.25,283.03 L326.07,283.60 L326.90,284.15 L327.74,284.69 L328.59,285.21 L329.45,285.71 L330.31,286.21 L331.19,286.68 L332.07,287.14 L332.96,287.58 L333.86,288.01 L334.77,288.42 L335.68,288.81 L336.60,289.19 L337.53,289.55 L338.47,289.89 L339.42,290.21 L340.37,290.51 L341.34,290.80 L342.31,291.06 L343.28,291.31 L344.27,291.53 L345.26,291.74 L346.26,291.92 L347.26,292.09 L348.27,292.23 L349.29,292.36 L350.32,292.46 L351.35,292.54 L352.39,292.60 L353.43,292.63 L354.49,292.65 L355.54,292.64 L356.61,292.61" stroke="#808080"/>
<path d="M209.65,242.00 L209.76,241.00 L209.88,240.01 L209.99,239.02 L210.12,238.02 L210.24,237.03 L210.37,236.03 L210.50,235.03 L210.64,234.04 L210.77,233.04 L210.91,232.04 L211.05,231.05 L211.19,230.05 L211.34,229.05 L211.48,228.05 L211.63,227.05 L211.77,226.06 L211.92,225.06 L212.06,224.06 L212.21,223.06 L212.35,222.06 L212.50,221.06 L212.64,220.07 L212.78,219.07 L212.92,218.07 L213.05,217.07 L213.19,216.07 L213.32,215.08 L213.45,214.08 L213.58,213.08 L213.70,212.08 L213.82,211.09 L213.93,210.09 L214.04,209.09 L214.15,208.10 L214.25,207.10 L214.34,206.11 L214.44,205.11 L214.53,204.12 L214.63,203.12 L214.73,202.13 L214.83,201.14 L214.95,200.14 L215.07,199.15 L215.21,198.16 L215.37,197.17 L215.54,196.19 L215.73,195.20 L215.95,194.21 L216.19,193.23 L216.45,192.24 L216.75,191.26 L217.08,190.27 L217.44,189.29 L217.84,188.31 L218.27,187.34 L218.75,186.36 L219.27,185.39 L219.83,184.45 L220.43,183.55 L221.07,182.72 L221.74,181.99 L222.45,181.37 L223.19,180.88 L223.96,180.55 L224.77,180.36 L225.60,180.29 L226.46,180.31 L227.35,180.37 L228.26,180.45 L229.19,180.51 L230.14,180.51 L231.12,180.47 L232.11,180.38 L233.12,180.28 L234.14,180.17 L235.17,180.08 L236.20,180.03 L237.25,180.03 L238.30,180.08 L239.35,180.16 L240.40,180.28 L241.45,180.42 L242.49,180.56 L243.53,180.70 L244.55,180.83 L245.57,180.94 L246.57,181.07 L247.56,181.21 L248.53,181.39 L249.48,181.61 L250.40,181.89 L251.31,182.23 L252.19,182.64 L253.05,183.11 L253.89,183.63 L254.72,184.19 L255.54,184.79 L256.35,185.41 L257.15,186.05 L257.95,186.71 L258.75,187.36 L259.55,188.01 L260.35,188.65 L261.16,189.28 L261.97,189.89 L262.79,190.49 L263.61,191.08 L264.42,191.66 L265.23,192.24 L266.04,192.83 L266.85,193.41 L267.64,194.00 L268.43,194.59 L269.21,195.19 L269.97,195.81 L270.73,196.43 L271.46,197.08 L272.18,197.74 L272.89,198.43 L273.57,199.14 L274.23,199.87 L274.87,200.63 L275.48,201.43 L276.07,202.26 L276.64,203.11 L277.19,203.98 L277.72,204.87 L278.24,205.77 L278.74,206.68 L279.24,207.59 L279.74,208.50 L280.23,209.41 L280.72,210.31 L281.20,211.20 L281.68,212.09 L282.16,212.98 L282.64,213.86 L283.11,214.73 L283.59,215.61 L284.06,216.48 L284.54,217.35 L285.01,218.21 L285.49,219.07 L285.97,219.93 L286.45,220.78 L286.93,221.63 L287.42,222.48 L287.91,223.33 L288.40,224.18 L288.90,225.02 L289.40,225.87 L289.90,226.71 L290.41,227.55 L290.93,228.39 L291.46,229.23 L291.99,230.06 L292.52,230.90 L293.07,231.74 L293.62,232.58 L294.18,233.41 L294.76,234.25 L295.33,235.09 L295.92,235.93 L296.51,236.77 L297.11,237.61 L297.71,238.45 L298.31,239.29 L298.91,240.13 L299.51,240.97 L300.11,241.82 L300.70,242.66 L301.30,243.50 L301.88,244.35 L302.46,245.19 L303.03,246.04 L303.59,246.89 L304.15,247.74 L304.69,248.59 L305.21,249.44 L305.73,250.29 L306.23,251.14 L306.73,251.99 L307.22,252.85 L307.70,253.70 L308.18,254.56 L308.65,255.42 L309.13,256.28 L309.60,257.14 L310.08,258.00 L310.56,258.86 L311.05,259.73 L311.54,260.59 L312.03,261.46 L312.54,262.32 L313.04,263.18 L313.55,264.04 L314.07,264.90 L314.60,265.75 L315.13,266.60 L315.67,267.45 L316.22,268.29 L316.77,269.13 L317.34,269.96 L317.91,270.79 L318.50,271.61 L319.09,272.42 L319.69,273.22 L320.31,274.02 L320.93,274.80 L321.57,275.58 L322.22,276.35 L322.88,277.10 L323.55,277.85 L324.23,278.58 L324.93,279.31 L325.65,280.02 L326.37,280.71 L327.11,281.40 L327.87,282.06 L328.64,282.72 L329.42,283.36 L330.21,283.98 L331.02,284.59 L331.84,285.18 L332.68,285.75 L333.52,286.30 L334.38,286.84 L335.25,287.35 L336.13,287.85 L337.02,288.33 L337.92,288.78 L338.83,289.22 L339.75,289.63 L340.68,290.02 L341.61,290.39 L342.56,290.74 L343.51,291.06 L344.47,291.35 L345.44,291.63 L346.41,291.87 L347.39,292.09 L348.38,292.29 L349.37,292.45 L350.37,292.59 L351.37,292.71 L352.38,292.79 L353.39,292.84 L354.41,292.86 L355.43,292.86 L356.45,292.82" stroke="#ff0000"/>
<path d="M209.54,247.92 L209.78,247.00 L210.02,246.06 L210.27,245.12 L210.52,244.17 L210.77,243.21 L211.02,242.24 L211.28,241.27 L211.53,240.30 L211.79,239.32 L212.04,238.33 L212.29,237.35 L212.54,236.35 L212.78,235.36 L213.02,234.36 L213.25,233.36 L213.47,232.36 L213.69,231.35 L213.90,230.35 L214.10,229.34 L214.29,228.34 L214.47,227.33 L214.64,226.33 L214.82,225.33 L214.99,224.33 L215.16,223.33 L215.33,222.33 L215.51,221.34 L215.69,220.36 L215.88,219.37 L216.08,218.39 L216.29,217.42 L216.51,216.45 L216.75,215.49 L217.00,214.53 L217.27,213.58 L217.56,212.64 L217.87,211.71 L218.21,210.78 L218.57,209.86 L218.96,208.96 L219.37,208.06 L219.81,207.17 L220.28,206.29 L220.77,205.43 L221.28,204.57 L221.82,203.73 L222.38,202.90 L222.97,202.08 L223.57,201.28 L224.20,200.49 L224.85,199.72 L225.51,198.95 L226.20,198.21 L226.90,197.48 L227.62,196.76 L228.36,196.07 L229.12,195.39 L229.89,194.72 L230.67,194.08 L231.47,193.45 L232.29,192.84 L233.11,192.25 L233.95,191.69 L234.80,191.14 L235.67,190.61 L236.54,190.11 L237.42,189.63 L238.32,189.17 L239.22,188.74 L240.13,188.34 L241.05,187.96 L241.98,187.61 L242.91,187.29 L243.85,187.01 L244.80,186.75 L245.75,186.52 L246.71,186.33 L247.67,186.18 L248.64,186.06 L249.61,185.97 L250.58,185.93 L251.56,185.93 L252.54,185.97 L253.52,186.05 L254.50,186.19 L255.48,186.36 L256.46,186.59 L257.44,186.87 L258.42,187.18 L259.40,187.54 L260.37,187.91 L261.34,188.31 L262.31,188.73 L263.28,189.15 L264.24,189.57 L265.20,190.00 L266.15,190.43 L267.09,190.85 L268.03,191.27 L268.96,191.68 L269.89,192.10 L270.81,192.52 L271.72,192.94 L272.62,193.37 L273.51,193.80 L274.39,194.25 L275.26,194.71 L276.12,195.19 L276.96,195.68 L277.80,196.18 L278.62,196.70 L279.43,197.23 L280.23,197.78 L281.01,198.35 L281.78,198.94 L282.53,199.55 L283.27,200.17 L283.99,200.82 L284.69,201.49 L285.38,202.19 L286.05,202.91 L286.70,203.64 L287.34,204.40 L287.96,205.18 L288.56,205.98 L289.14,206.79 L289.70,207.62 L290.25,208.47 L290.78,209.33 L291.30,210.21 L291.79,211.09 L292.27,211.99 L292.73,212.90 L293.17,213.82 L293.59,214.75 L294.00,215.68 L294.39,216.63 L294.76,217.57 L295.12,218.53 L295.47,219.48 L295.80,220.44 L296.13,221.40 L296.46,222.37 L296.78,223.33 L297.10,224.29 L297.42,225.25 L297.75,226.20 L298.08,227.15 L298.42,228.10 L298.76,229.04 L299.11,229.98 L299.47,230.92 L299.84,231.85 L300.21,232.77 L300.59,233.69 L300.97,234.61 L301.36,235.53 L301.76,236.44 L302.16,237.35 L302.57,238.26 L302.98,239.16 L303.40,240.06 L303.83,240.96 L304.26,241.86 L304.69,242.75 L305.13,243.65 L305.58,244.54 L306.03,245.43 L306.48,246.32 L306.94,247.20 L307.41,248.09 L307.88,248.97 L308.35,249.86 L308.82,250.74 L309.31,251.63 L309.79,252.51 L310.28,253.39 L310.77,254.28 L311.27,255.16 L311.77,256.05 L312.27,256.93 L312.78,257.81 L313.30,258.69 L313.81,259.57 L314.34,260.44 L314.87,261.31 L315.40,262.18 L315.94,263.05 L316.48,263.91 L317.04,264.77 L317.59,265.62 L318.16,266.47 L318.73,267.32 L319.30,268.15 L319.89,268.98 L320.48,269.81 L321.08,270.63 L321.68,271.44 L322.30,272.24 L322.92,273.03 L323.55,273.82 L324.19,274.60 L324.84,275.37 L325.49,276.12 L326.16,276.87 L326.83,277.61 L327.52,278.34 L328.21,279.05 L328.91,279.76 L329.63,280.45 L330.35,281.13 L331.08,281.80 L331.83,282.45 L332.58,283.09 L333.35,283.71 L334.13,284.32 L334.91,284.91 L335.71,285.48 L336.53,286.03 L337.35,286.56 L338.19,287.07 L339.04,287.56 L339.90,288.02 L340.77,288.46 L341.66,288.88 L342.56,289.27 L343.47,289.64 L344.40,289.97 L345.34,290.29 L346.30,290.57 L347.27,290.84 L348.25,291.09 L349.25,291.32 L350.27,291.54 L351.29,291.76 L352.34,291.96 L353.40,292.16 L354.47,292.37 L355.56,292.57 L356.67,292.78" stroke="#008000"/>
<path d="M209.60,251.88 L209.75,250.95 L209.92,250.02 L210.09,249.07 L210.26,248.12 L210.44,247.16 L210.63,246.20 L210.82,245.23 L211.01,244.26 L211.21,243.28 L211.41,242.29 L211.61,241.30 L211.81,240.31 L212.02,239.32 L212.22,238.32 L212.43,237.32 L212.64,236.31 L212.85,235.31 L213.05,234.30 L213.26,233.29 L213.46,232.29 L213.67,231.28 L213.86,230.27 L214.06,229.26 L214.25,228.25 L214.45,227.25 L214.63,226.24 L214.82,225.24 L215.01,224.24 L215.21,223.24 L215.40,222.25 L215.60,221.26 L215.81,220.27 L216.02,219.29 L216.24,218.31 L216.47,217.33 L216.72,216.37 L216.97,215.40 L217.24,214.45 L217.52,213.50 L217.82,212.56 L218.13,211.62 L218.47,210.69 L218.82,209.77 L219.20,208.86 L219.59,207.96 L220.01,207.07 L220.46,206.19 L220.92,205.31 L221.41,204.45 L221.92,203.60 L222.46,202.76 L223.01,201.93 L223.58,201.11 L224.17,200.31 L224.79,199.52 L225.41,198.74 L226.06,197.98 L226.72,197.22 L227.40,196.49 L228.09,195.77 L228.80,195.06 L229.52,194.37 L230.26,193.69 L231.01,193.04 L231.77,192.39 L232.54,191.77 L233.32,191.16 L234.11,190.57 L234.91,190.00 L235.71,189.45 L236.53,188.91 L237.35,188.36 L238.19,187.80 L239.03,187.20 L239.88,186.57 L240.74,185.94 L241.61,185.33 L242.49,184.77 L243.39,184.28 L244.29,183.87 L245.20,183.53 L246.13,183.25 L247.07,183.02 L248.02,182.81 L248.98,182.62 L249.95,182.42 L250.94,182.22 L251.94,182.00 L252.94,181.78 L253.95,181.56 L254.97,181.36 L255.98,181.17 L257.00,181.00 L258.01,180.86 L259.01,180.75 L260.01,180.69 L260.99,180.67 L261.96,180.70 L262.92,180.79 L263.86,180.94 L264.78,181.16 L265.68,181.45 L266.56,181.79 L267.43,182.18 L268.28,182.63 L269.11,183.13 L269.92,183.67 L270.72,184.26 L271.50,184.88 L272.27,185.53 L273.02,186.21 L273.75,186.92 L274.48,187.66 L275.18,188.41 L275.88,189.18 L276.56,189.96 L277.23,190.74 L277.88,191.54 L278.53,192.34 L279.16,193.14 L279.78,193.95 L280.39,194.76 L280.99,195.58 L281.58,196.40 L282.16,197.23 L282.74,198.06 L283.30,198.89 L283.85,199.73 L284.40,200.58 L284.93,201.43 L285.47,202.28 L285.99,203.14 L286.51,204.00 L287.02,204.87 L287.52,205.74 L288.02,206.61 L288.51,207.49 L288.99,208.37 L289.47,209.25 L289.94,210.14 L290.41,211.03 L290.87,211.92 L291.32,212.82 L291.77,213.72 L292.21,214.62 L292.64,215.53 L293.07,216.44 L293.50,217.35 L293.91,218.26 L294.33,219.17 L294.73,220.09 L295.13,221.01 L295.53,221.93 L295.92,222.85 L296.30,223.77 L296.68,224.70 L297.05,225.62 L297.42,226.55 L297.79,227.48 L298.14,228.41 L298.50,229.33 L298.85,230.26 L299.19,231.19 L299.53,232.13 L299.86,233.06 L300.19,233.99 L300.51,234.92 L300.84,235.85 L301.16,236.78 L301.49,237.71 L301.82,238.64 L302.15,239.57 L302.49,240.50 L302.83,241.43 L303.18,242.36 L303.54,243.28 L303.91,244.21 L304.29,245.13 L304.68,246.05 L305.09,246.97 L305.51,247.89 L305.95,248.81 L306.40,249.72 L306.86,250.63 L307.33,251.55 L307.82,252.45 L308.31,253.36 L308.82,254.26 L309.33,255.16 L309.84,256.06 L310.37,256.96 L310.89,257.85 L311.42,258.74 L311.96,259.62 L312.49,260.50 L313.03,261.38 L313.57,262.26 L314.11,263.13 L314.65,263.99 L315.19,264.85 L315.74,265.70 L316.29,266.55 L316.85,267.40 L317.41,268.23 L317.97,269.06 L318.55,269.88 L319.12,270.69 L319.71,271.50 L320.30,272.29 L320.90,273.08 L321.51,273.86 L322.13,274.63 L322.76,275.38 L323.39,276.13 L324.04,276.86 L324.70,277.59 L325.37,278.30 L326.05,279.00 L326.75,279.68 L327.46,280.36 L328.18,281.02 L328.91,281.66 L329.66,282.30 L330.43,282.91 L331.21,283.52 L332.01,284.10 L332.82,284.67 L333.65,285.23 L334.49,285.76 L335.35,286.29 L336.23,286.79 L337.11,287.27 L338.01,287.74 L338.92,288.19 L339.84,288.62 L340.77,289.03 L341.71,289.43 L342.66,289.80 L343.62,290.15 L344.58,290.48 L345.55,290.80 L346.53,291.09 L347.51,291.36 L348.49,291.60 L349.48,291.83 L350.47,292.03 L351.46,292.21 L352.45,292.37 L353.44,292.50 L354.43,292.61 L355.42,292.69 L356.41,292.76" stroke="#800080"/>
<path d="M210.24,260.01 L210.36,259.01 L210.48,258.01 L210.60,257.01 L210.72,256.02 L210.84,255.02 L210.96,254.02 L211.09,253.02 L211.21,252.02 L211.34,251.03 L211.47,250.03 L211.61,249.03 L211.75,248.04 L211.90,247.04 L212.05,246.05 L212.21,245.06 L212.38,244.07 L212.55,243.09 L212.74,242.10 L212.93,241.12 L213.14,240.14 L213.36,239.17 L213.59,238.20 L213.83,237.23 L214.08,236.26 L214.35,235.30 L214.64,234.34 L214.94,233.39 L215.25,232.44 L215.58,231.49 L215.93,230.55 L216.29,229.61 L216.67,228.68 L217.06,227.75 L217.47,226.83 L217.89,225.92 L218.33,225.01 L218.77,224.11 L219.24,223.21 L219.71,222.32 L220.19,221.43 L220.69,220.55 L221.20,219.68 L221.72,218.82 L222.25,217.96 L222.79,217.12 L223.34,216.27 L223.90,215.44 L224.47,214.61 L225.04,213.79 L225.61,212.97 L226.19,212.16 L226.77,211.34 L227.35,210.53 L227.92,209.71 L228.49,208.89 L229.05,208.06 L229.60,207.23 L230.14,206.40 L230.67,205.55 L231.18,204.70 L231.68,203.83 L232.15,202.96 L232.61,202.07 L233.05,201.17 L233.48,200.25 L233.90,199.34 L234.31,198.41 L234.72,197.49 L235.13,196.56 L235.55,195.64 L235.97,194.73 L236.42,193.82 L236.87,192.92 L237.35,192.04 L237.86,191.17 L238.40,190.32 L238.96,189.50 L239.57,188.69 L240.21,187.91 L240.89,187.17 L241.61,186.46 L242.35,185.78 L243.12,185.15 L243.92,184.57 L244.74,184.04 L245.58,183.57 L246.44,183.15 L247.31,182.79 L248.19,182.46 L249.09,182.15 L249.99,181.84 L250.90,181.51 L251.80,181.15 L252.71,180.73 L253.61,180.25 L254.51,179.71 L255.40,179.11 L256.28,178.46 L257.14,177.76 L257.99,177.02 L258.82,176.23 L259.63,175.41 L260.42,174.59 L261.19,173.81 L261.96,173.11 L262.72,172.52 L263.48,172.09 L264.24,171.86 L265.01,171.85 L265.78,172.06 L266.54,172.45 L267.29,172.98 L268.01,173.62 L268.70,174.34 L269.37,175.12 L270.01,175.95 L270.65,176.85 L271.28,177.80 L271.91,178.79 L272.54,179.80 L273.18,180.79 L273.82,181.72 L274.47,182.56 L275.12,183.28 L275.78,183.84 L276.44,184.22 L277.11,184.37 L277.78,184.28 L278.44,183.96 L279.09,183.45 L279.72,182.77 L280.30,181.94 L280.86,181.00 L281.39,179.98 L281.89,178.90 L282.39,177.80 L282.87,176.70 L283.35,175.63 L283.83,174.63 L284.33,173.73 L284.83,172.96 L285.33,172.41 L285.82,172.14 L286.28,172.22 L286.72,172.64 L287.13,173.32 L287.51,174.19 L287.86,175.17 L288.20,176.19 L288.51,177.23 L288.80,178.28 L289.07,179.33 L289.33,180.38 L289.56,181.43 L289.79,182.46 L290.00,183.48 L290.19,184.48 L290.38,185.48 L290.55,186.46 L290.72,187.44 L290.88,188.42 L291.03,189.39 L291.18,190.36 L291.33,191.32 L291.48,192.29 L291.62,193.25 L291.77,194.22 L291.92,195.20 L292.07,196.18 L292.22,197.16 L292.38,198.15 L292.54,199.14 L292.70,200.13 L292.86,201.13 L293.02,202.13 L293.19,203.13 L293.35,204.13 L293.52,205.13 L293.68,206.14 L293.85,207.14 L294.01,208.15 L294.18,209.16 L294.35,210.16 L294.51,211.17 L294.68,212.18 L294.84,213.18 L295.00,214.18 L295.16,215.18 L295.32,216.18 L295.48,217.18 L295.64,218.17 L295.80,219.16 L295.96,220.16 L296.12,221.14 L296.28,222.13 L296.45,223.12 L296.62,224.10 L296.80,225.08 L296.97,226.06 L297.16,227.03 L297.35,228.01 L297.54,228.98 L297.74,229.95 L297.95,230.91 L298.16,231.88 L298.39,232.84 L298.62,233.80 L298.86,234.76 L299.11,235.71 L299.37,236.67 L299.64,237.62 L299.92,238.57 L300.21,239.51 L300.51,240.45 L300.83,241.39 L301.16,242.33 L301.51,243.27 L301.86,244.20 L302.24,245.13 L302.62,246.05 L303.03,246.98 L303.45,247.90 L303.88,248.82 L304.33,249.73 L304.80,250.65 L305.27,251.56 L305.76,252.46 L306.26,253.36 L306.77,254.26 L307.29,255.16 L307.82,256.05 L308.35,256.93 L308.90,257.81 L309.45,258.69 L310.00,259.56 L310.55,260.43 L311.11,261.29 L311.68,262.15 L312.24,263.00 L312.80,263.85 L313.37,264.69 L313.93,265.53 L314.49,266.36 L315.05,267.18 L315.60,268.00 L316.16,268.81 L316.72,269.62 L317.27,270.42 L317.84,271.21 L318.40,271.99 L318.98,272.77 L319.56,273.54 L320.14,274.31 L320.74,275.06 L321.35,275.81 L321.97,276.56 L322.61,277.29 L323.26,278.01 L323.92,278.73 L324.60,279.44 L325.30,280.14 L326.03,280.83 L326.77,281.52 L327.53,282.19 L328.30,282.85 L329.10,283.49 L329.91,284.12 L330.74,284.74 L331.59,285.33 L332.44,285.90 L333.32,286.46 L334.20,286.99 L335.10,287.49 L336.00,287.97 L336.92,288.42 L337.85,288.84 L338.78,289.23 L339.72,289.58 L340.67,289.90 L341.62,290.19 L342.58,290.45 L343.55,290.67 L344.52,290.88 L345.49,291.06 L346.47,291.22 L347.45,291.37 L348.44,291.52 L349.43,291.65 L350.42,291.78 L351.41,291.92 L352.41,292.06 L353.41,292.20 L354.40,292.36 L355.40,292.54 L356.40,292.73" stroke="#0000ff"/>
</g>
<path d="M59.31,0.60v2.00 M59.31,144.20v-2.00 M59.31,151.30v2.00 M59.31,294.50v-2.00 M73.12,0.60v3.50 M73.12,144.20v-3.50 M73.12,151.30v3.50 M73.12,294.50v-3.50 M86.94,0.60v2.00 M86.94,144.20v-2.00 M86.94,151.30v2.00 M86.94,294.50v-2.00 M100.76,0.60v2.00 M100.76,144.20v-2.00 M100.76,151.30v2.00 M100.76,294.50v-2.00 M114.58,0.60v2.00 M114.58,144.20v-2.00 M114.58,151.30v2.00 M114.58,294.50v-2.00 M128.40,0.60v3.50 M128.40,144.20v-3.50 M128.40,151.30v3.50 M128.40,294.50v-3.50 M142.22,0.60v2.00 M142.22,144.20v-2.00 M142.22,151.30v2.00 M142.22,294.50v-2.00 M156.04,0.60v2.00 M156.04,144.20v-2.00 M156.04,151.30v2.00 M156.04,294.50v-2.00 M169.86,0.60v2.00 M169.86,144.20v-2.00 M169.86,151.30v2.00 M169.86,294.50v-2.00 M183.68,0.60v3.50 M183.68,144.20v-3.50 M183.68,151.30v3.50 M183.68,294.50v-3.50 M197.49,0.60v2.00 M197.49,144.20v-2.00 M197.49,151.30v2.00 M197.49,294.50v-2.00 M54.70,285.55h2.00 M202.10,285.55h-2.00 M218.59,151.30v2.00 M218.59,294.50v-2.00 M54.70,273.02h3.50 M202.10,273.02h-3.50 M231.45,151.30v3.50 M231.45,294.50v-3.50 M54.70,260.49h2.00 M202.10,260.49h-2.00 M244.31,151.30v2.00 M244.31,294.50v-2.00 M54.70,247.96h2.00 M202.10,247.96h-2.00 M257.18,151.30v2.00 M257.18,294.50v-2.00 M54.70,235.43h2.00 M202.10,235.43h-2.00 M270.04,151.30v2.00 M270.04,294.50v-2.00 M54.70,222.90h3.50 M202.10,222.90h-3.50 M282.90,151.30v3.50 M282.90,294.50v-3.50 M54.70,210.37h2.00 M202.10,210.37h-2.00 M295.76,151.30v2.00 M295.76,294.50v-2.00 M54.70,197.84h2.00 M202.10,197.84h-2.00 M308.62,151.30v2.00 M308.62,294.50v-2.00 M54.70,185.31h2.00 M202.10,185.31h-2.00 M321.49,151.30v2.00 M321.49,294.50v-2.00 M54.70,172.78h3.50 M202.10,172.78h-3.50 M334.35,151.30v3.50 M334.35,294.50v-3.50 M54.70,160.25h2.00 M202.10,160.25h-2.00 M347.21,151.30v2.00 M347.21,294.50v-2.00" stroke="#000" stroke-width="1.0" fill="none"/>
<rect x="54.70" y="0.60" width="147.40" height="143.60" fill="none" stroke="#000" stroke-width="1.30"/>
<rect x="54.70" y="151.30" width="147.40" height="143.20" fill="none" stroke="#000" stroke-width="1.30"/>
<rect x="209.40" y="151.30" width="147.00" height="143.20" fill="none" stroke="#000" stroke-width="1.30"/>
<g transform="translate(38.00,177.75) scale(1.0549,1.0549) translate(-37.38,-177.50)"><text font-size="16" stroke="#fff" stroke-width="0.05" text-anchor="middle" transform="translate(38.00,177.75) rotate(-45)" dy="0.34em">1.7</text></g>
<g transform="translate(38.55,228.55) scale(1.0400,1.0400) translate(-38.75,-229.00)"><text font-size="16" stroke="#fff" stroke-width="0.05" text-anchor="middle" transform="translate(38.50,228.50) rotate(-45)" dy="0.34em">1.0</text></g>
<g transform="translate(38.55,278.90) scale(1.0306,1.0306) translate(-38.75,-279.00)"><text font-size="16" stroke="#fff" stroke-width="0.05" text-anchor="middle" transform="translate(38.50,278.90) rotate(-45)" dy="0.34em">0.3</text></g>
<g transform="translate(72.75,312.20) scale(0.9628,0.9628) translate(-73.25,-312.38)"><text font-size="16" stroke="#fff" stroke-width="0.05" text-anchor="middle" transform="translate(72.75,312.20) rotate(-45)" dy="0.34em">14.6</text></g>
<g transform="translate(127.60,312.60) scale(1.0246,1.0246) translate(-127.75,-313.12)"><text font-size="16" stroke="#fff" stroke-width="0.05" text-anchor="middle" transform="translate(127.60,312.60) rotate(-45)" dy="0.34em">14.9</text></g>
<g transform="translate(182.80,312.00) scale(1.0010,1.0010) translate(-183.62,-312.50)"><text font-size="16" stroke="#fff" stroke-width="0.05" text-anchor="middle" transform="translate(182.80,312.00) rotate(-45)" dy="0.34em">15.2</text></g>
<g transform="translate(230.70,309.45) scale(1.0236,1.0236) translate(-231.00,-309.62)"><text font-size="16" stroke="#fff" stroke-width="0.05" text-anchor="middle" transform="translate(230.70,309.50) rotate(-45)" dy="0.34em">0.3</text></g>
<g transform="translate(281.70,309.45) scale(1.0251,1.0251) translate(-283.25,-310.12)"><text font-size="16" stroke="#fff" stroke-width="0.05" text-anchor="middle" transform="translate(282.90,309.50) rotate(-45)" dy="0.34em">1.0</text></g>
<g transform="translate(333.20,309.20) scale(1.0224,1.0224) translate(-333.12,-309.25)"><text font-size="16" stroke="#fff" stroke-width="0.05" text-anchor="middle" transform="translate(333.70,309.50) rotate(-45)" dy="0.34em">1.7</text></g>
<g transform="translate(56.00,340.45) scale(0.8615,1.0579) translate(-57.75,-340.00)"><text font-size="21" stroke="#fff" stroke-width="0.05" x="44.30" y="345.00">log</text></g>
<g transform="translate(74.90,345.00) scale(0.9882,1.1000) translate(-75.38,-344.75)"><text font-size="14.5" stroke="#fff" stroke-width="0.05" x="67.80" y="349.50">10</text></g>
<g transform="translate(86.45,341.30) scale(1.0000,1.3565) translate(-86.62,-339.12)"><text font-size="21" stroke="#fff" stroke-width="0.05" x="82.60" y="345.00">[</text></g>
<g transform="translate(99.40,338.00) scale(1.0453,1.0182) translate(-95.62,-338.12)"><text font-size="21" font-style="italic" stroke="#fff" stroke-width="0.05" x="86.50" y="345.00">M</text></g>
<g transform="translate(119.00,344.95) scale(1.0120,1.1100) translate(-118.38,-344.75)"><text font-size="14.5" stroke="#fff" stroke-width="0.05" x="107.50" y="349.50">200</text></g>
<g transform="translate(149.70,338.10) scale(1.0453,1.0182) translate(-146.62,-338.12)"><text font-size="21" font-style="italic" stroke="#fff" stroke-width="0.05" x="137.50" y="345.00">M</text></g>
<g transform="translate(182.75,337.65) scale(1.1314,0.9586) translate(-181.62,-337.75)"><text font-size="21" font-style="italic" stroke="#fff" stroke-width="0.05" x="176.50" y="345.00">h</text></g>
<g transform="translate(197.80,332.70) scale(1.1345,1.0105) translate(-196.12,-331.75)"><text font-size="14.5" stroke="#fff" stroke-width="0.05" x="188.50" y="336.50">&#8722;1</text></g>
<g transform="translate(209.15,339.40) scale(1.0000,1.1942) translate(-210.62,-339.12)"><text font-size="21" stroke="#fff" stroke-width="0.05" x="207.50" y="345.00">]</text></g>
<g transform="translate(258.45,331.65) scale(0.8885,0.9947) translate(-259.50,-331.50)"><text font-size="21" stroke="#fff" stroke-width="0.05" x="246.00" y="336.40">log</text></g>
<g transform="translate(277.35,336.55) scale(1.0431,1.0500) translate(-276.38,-336.25)"><text font-size="14.5" stroke="#fff" stroke-width="0.05" x="268.70" y="340.90">10</text></g>
<g transform="translate(294.10,332.30) scale(0.9455,0.8780) translate(-293.38,-331.62)"><text font-size="21" font-style="italic" stroke="#fff" stroke-width="0.05" x="288.50" y="336.40">c</text></g>
<g transform="translate(308.40,335.40) scale(0.9446,0.9600) translate(-307.88,-336.25)"><text font-size="14.5" stroke="#fff" stroke-width="0.05" x="297.00" y="340.90">200</text></g>
<g transform="translate(10.10,247.40) scale(1.0105,0.8381) translate(-10.00,-245.38)"><text font-size="21" stroke="#fff" stroke-width="0.05" transform="translate(15.00,258.80) rotate(-90)">log</text></g>
<g transform="translate(14.60,228.25) scale(0.9200,1.0275) translate(-14.75,-228.62)"><text font-size="14.5" stroke="#fff" stroke-width="0.05" transform="translate(19.50,236.10) rotate(-90)">10</text></g>
<g transform="translate(10.00,213.25) scale(0.8976,0.9059) translate(-10.12,-211.50)"><text font-size="21" font-style="italic" stroke="#fff" stroke-width="0.05" transform="translate(15.00,216.30) rotate(-90)">c</text></g>
<g transform="translate(13.50,197.45) scale(1.0000,0.9976) translate(-14.75,-196.88)"><text font-size="14.5" stroke="#fff" stroke-width="0.05" transform="translate(19.50,207.80) rotate(-90)">200</text></g>
<g transform="translate(252.60,11.75) scale(1.0839,1.0214) translate(-250.50,-12.00)"><text font-size="21.5" font-style="italic" stroke="#fff" stroke-width="0.15" fill="#808080" x="243.00" y="18.90">N</text></g>
<g transform="translate(272.30,16.80) scale(1.1556,0.9474) translate(-271.00,-17.00)"><text font-size="13.2" stroke="#fff" stroke-width="0.12" fill="#808080" x="259.30" y="21.50">subs</text></g>
<g transform="translate(299.95,13.30) scale(1.3300,1.0000) translate(-298.00,-13.38)"><text font-size="21.5" stroke="#fff" stroke-width="0.25" fill="#808080" x="292.00" y="20.50">=</text></g>
<g transform="translate(317.80,12.60) scale(0.9333,0.9655) translate(-318.00,-12.00)"><text font-size="21.5" stroke="#fff" stroke-width="0.20" fill="#808080" x="312.60" y="18.90">0</text></g>
<g transform="translate(252.60,34.65) scale(1.0839,1.0214) translate(-250.50,-34.75)"><text font-size="21.5" font-style="italic" stroke="#fff" stroke-width="0.15" fill="#ff0000" x="243.00" y="41.80">N</text></g>
<g transform="translate(272.30,39.70) scale(1.1556,0.9474) translate(-271.00,-40.00)"><text font-size="13.2" stroke="#fff" stroke-width="0.12" fill="#ff0000" x="259.30" y="44.40">subs</text></g>
<g transform="translate(299.95,36.20) scale(1.3300,1.0000) translate(-298.00,-36.38)"><text font-size="21.5" stroke="#fff" stroke-width="0.25" fill="#ff0000" x="292.00" y="43.40">=</text></g>
<g transform="translate(318.00,35.50) scale(0.8267,0.9825) translate(-318.25,-34.62)"><text font-size="21.5" stroke="#fff" stroke-width="0.20" fill="#ff0000" x="312.60" y="41.80">1</text></g>
<g transform="translate(252.60,57.55) scale(1.0839,1.0214) translate(-250.50,-57.75)"><text font-size="21.5" font-style="italic" stroke="#fff" stroke-width="0.15" fill="#008000" x="243.00" y="64.70">N</text></g>
<g transform="translate(272.30,62.60) scale(1.1556,0.9474) translate(-271.00,-62.75)"><text font-size="13.2" stroke="#fff" stroke-width="0.12" fill="#008000" x="259.30" y="67.30">subs</text></g>
<g transform="translate(299.95,59.10) scale(1.3300,1.0000) translate(-298.00,-59.12)"><text font-size="21.5" stroke="#fff" stroke-width="0.25" fill="#008000" x="292.00" y="66.30">=</text></g>
<g transform="translate(317.85,58.40) scale(0.9943,0.9825) translate(-317.88,-57.62)"><text font-size="21.5" stroke="#fff" stroke-width="0.20" fill="#008000" x="312.60" y="64.70">2</text></g>
<g transform="translate(252.60,80.45) scale(1.0839,1.0214) translate(-250.50,-80.50)"><text font-size="21.5" font-style="italic" stroke="#fff" stroke-width="0.15" fill="#800080" x="243.00" y="87.60">N</text></g>
<g transform="translate(272.30,85.50) scale(1.1556,0.9474) translate(-271.00,-85.75)"><text font-size="13.2" stroke="#fff" stroke-width="0.12" fill="#800080" x="259.30" y="90.20">subs</text></g>
<g transform="translate(299.95,82.00) scale(1.3300,1.0000) translate(-298.00,-82.12)"><text font-size="21.5" stroke="#fff" stroke-width="0.25" fill="#800080" x="292.00" y="89.20">=</text></g>
<g transform="translate(317.85,81.30) scale(0.9943,0.9655) translate(-318.12,-80.50)"><text font-size="21.5" stroke="#fff" stroke-width="0.20" fill="#800080" x="312.60" y="87.60">3</text></g>
<g transform="translate(252.60,103.35) scale(1.0839,1.0214) translate(-250.50,-103.50)"><text font-size="21.5" font-style="italic" stroke="#fff" stroke-width="0.15" fill="#0000ff" x="243.00" y="110.50">N</text></g>
<g transform="translate(272.30,108.40) scale(1.1556,0.9474) translate(-271.00,-108.50)"><text font-size="13.2" stroke="#fff" stroke-width="0.12" fill="#0000ff" x="259.30" y="113.10">subs</text></g>
<g transform="translate(299.95,104.90) scale(1.3300,1.0000) translate(-298.00,-104.88)"><text font-size="21.5" stroke="#fff" stroke-width="0.25" fill="#0000ff" x="292.00" y="112.10">=</text></g>
<g transform="translate(318.00,104.20) scale(1.0000,0.9825) translate(-318.00,-103.38)"><text font-size="21.5" stroke="#fff" stroke-width="0.20" fill="#0000ff" x="312.60" y="110.50">4</text></g>
<line x1="130.9" y1="349.6" x2="137.7" y2="329.4" stroke="#000" stroke-width="1.05"/>
<circle cx="164.3" cy="344.2" r="4.80" fill="none" stroke="#000" stroke-width="0.9"/><circle cx="164.3" cy="344.2" r="0.95" fill="#000"/>
</g></svg>
</body></html>
